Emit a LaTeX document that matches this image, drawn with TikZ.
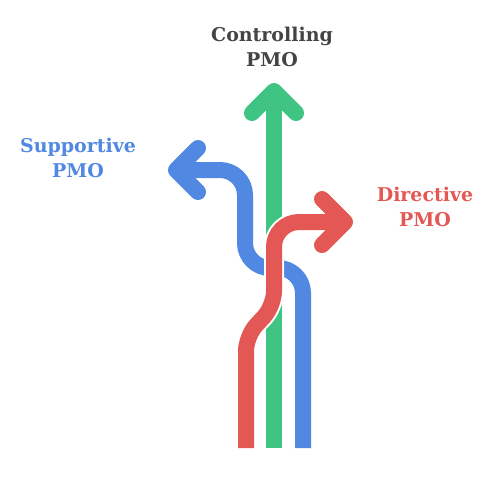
\documentclass[tikz,border=0pt]{standalone}
\usepackage{fontspec}
\setmainfont{DejaVu Serif}
\usetikzlibrary{positioning}
\definecolor{ctrlgreen}{HTML}{40C484}
\definecolor{supblue}{HTML}{5088E2}
\definecolor{dirred}{HTML}{E35854}
\definecolor{labelgray}{HTML}{444444}
\tikzset{
    lane/.style={line width=0.32cm, line cap=butt, line join=round, rounded corners=0.5cm},
    laneborder/.style={lane, draw=white, line width=0.40cm},
    head/.style={line width=0.32cm, line cap=round, line join=round},
    pmolabel/.style={font=\bfseries\fontsize{10.8}{14.2}\selectfont, align=center}
}

\begin{document}
\begin{tikzpicture}[x=0.02cm, y=-0.02cm]
    \useasboundingbox (0,0) rectangle (499,478);
    % labels
    \node (controlling) [pmolabel, text=labelgray] at (272,47) {Controlling\\PMO};
    \node (supportive) [pmolabel, text=supblue] at (78,158) {Supportive\\PMO};
    \node (directive) [pmolabel, text=dirred] at (425,207) {Directive\\PMO};
    % lane ends
    \coordinate (gbase) at (274,448);
    \coordinate (gtip) at (274,91);
    \coordinate (bbase) at (303,448);
    \coordinate (btip) at (176,170);
    \coordinate (rbase) at (246,448);
    \coordinate (rtip) at (345,222);
    % controlling (straight up)
    \draw [lane, ctrlgreen] (gbase) -- (gtip);
    \draw [head, ctrlgreen] (gtip) ++(-22,22) -- (gtip) -- ++(22,22);
    % supportive (turns left)
    \draw [laneborder] (bbase) -- (303,268) -- (245,268) -- (245,170) -- (btip);
    \draw [lane, supblue] (bbase) -- (303,268) -- (245,268) -- (245,170) -- (btip);
    \draw [head, supblue] (btip) ++(22,-22) -- (btip) -- ++(22,22);
    % directive (turns right)
    \draw [laneborder] (rbase) [rounded corners=0.3cm] -- (246,336) -- (274,306) [rounded corners=0.5cm] -- (274,222) -- (rtip);
    \draw [lane, dirred] (rbase) [rounded corners=0.3cm] -- (246,336) -- (274,306) [rounded corners=0.5cm] -- (274,222) -- (rtip);
    \draw [head, dirred] (rtip) ++(-23,-23) -- (rtip) -- ++(-23,23);
\end{tikzpicture}
\end{document}
